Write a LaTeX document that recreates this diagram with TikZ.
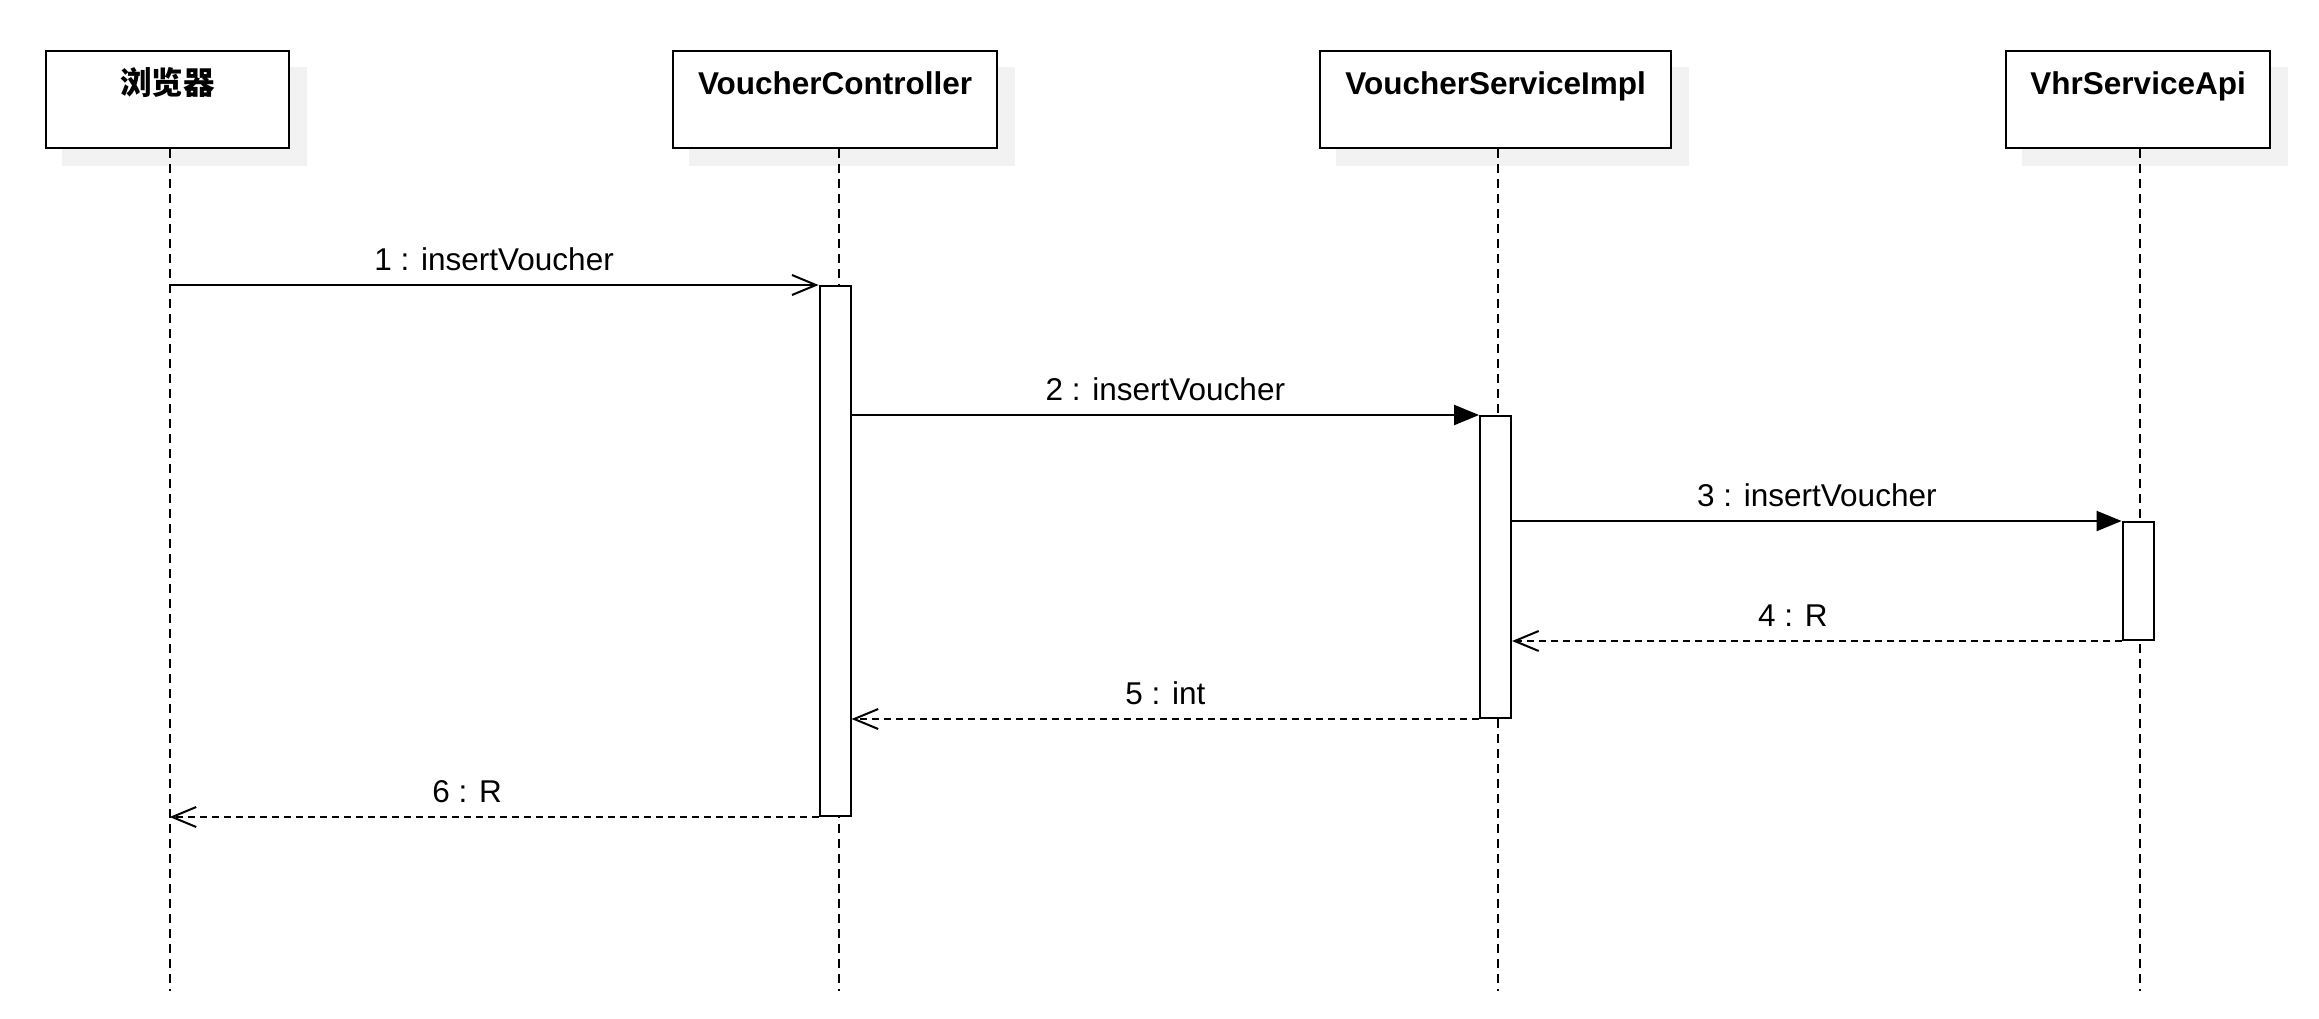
\documentclass[tikz,border=0pt]{standalone}
\usepackage{fontspec}
\setmainfont{Liberation Sans}
\newfontfamily\cjk{Noto Sans CJK SC}
\usetikzlibrary{arrows.meta,backgrounds}
\definecolor{shadowgray}{HTML}{F2F2F2}
\begin{document}
\begin{tikzpicture}[x=1pt,y=-1pt,
  every node/.style={font=\fontsize{31.5}{38}\selectfont},
  participant/.style={draw, line width=2.2pt, fill=white, inner sep=0pt,
    anchor=north west, minimum height=97pt, text height=43pt, text depth=54pt,
    font=\fontsize{31.5}{38}\selectfont\bfseries},
  activation/.style={draw, line width=2pt, fill=white, inner sep=0pt,
    anchor=north, minimum width=31pt},
  lifeline/.style={line width=1.8pt, dash pattern=on 9pt off 6pt},
  call/.style={line width=2pt, -{Triangle[length=25pt,width=20pt]}},
  async/.style={line width=2pt, -{Straight Barb[length=24pt,width=20pt]}},
  reply/.style={line width=2pt, dash pattern=on 7pt off 5pt,
    -{Straight Barb[length=24pt,width=20pt,line width=2pt]}},
  msglabel/.style={midway, anchor=base, yshift=15pt, inner sep=0pt}
]
\useasboundingbox (0,0) rectangle (2319,1018);

% participants
\node[participant, minimum width=243pt] (br)  at (45,50)   {\cjk\bfseries 浏览器};
\node[participant, minimum width=324pt] (vc)  at (672,50)  {VoucherController};
\node[participant, minimum width=351pt] (vsi) at (1319,50) {VoucherServiceImpl};
\node[participant, minimum width=264pt] (api) at (2005,50) {VhrServiceApi};

% drop shadows behind the participant boxes
\begin{scope}[on background layer]
  \foreach \p in {br,vc,vsi,api}
    \fill[shadowgray] ([shift={(17pt,-17pt)}]\p.north west) rectangle ([shift={(17pt,-17pt)}]\p.south east);
\end{scope}

% lifeline tops and ends
\coordinate (brTop)  at ([xshift=2pt]br.south);
\coordinate (vcTop)  at ([xshift=4pt]vc.south);
\coordinate (vsiTop) at ([xshift=2.5pt]vsi.south);
\coordinate (apiTop) at ([xshift=2pt]api.south);
\coordinate (brEnd)  at (brTop  |- 0,991);
\coordinate (vcEnd)  at (vcTop  |- 0,991);
\coordinate (vsiEnd) at (vsiTop |- 0,991);
\coordinate (apiEnd) at (apiTop |- 0,991);

\draw[lifeline] (brTop)  -- (brEnd);
\draw[lifeline] (vcTop)  -- (vcEnd);
\draw[lifeline] (vsiTop) -- (vsiEnd);
\draw[lifeline] (apiTop) -- (apiEnd);

% activation bars
\node[activation, minimum height=530pt] (a1) at (vc.south  |- 0,285) {};
\node[activation, minimum height=302pt] (a2) at (vsi.south |- 0,415) {};
\node[activation, minimum height=118pt] (a3) at (api.south |- 0,521) {};

% message end points on lifelines / bars
\coordinate (m1s) at (brTop   |- a1.north);
\coordinate (m4e) at (a2.east |- a3.south);
\coordinate (m5e) at (a1.east |- a2.south);
\coordinate (m6e) at (brTop   |- a1.south);

% messages
\draw[async] (m1s) -- (a1.north west) node[msglabel] {1 : insertVoucher};
\draw[call]  (a1.east |- a2.north) -- (a2.north west) node[msglabel] {2 : insertVoucher};
\draw[call]  (a2.east |- a3.north) -- (a3.north west) node[msglabel] {3 : insertVoucher};
\draw[reply] (a3.south west) -- (m4e) node[msglabel, xshift=-24pt] {4 : R};
\draw[reply] (a2.south west) -- (m5e) node[msglabel] {5 : int};
\draw[reply] (a1.south west) -- (m6e) node[msglabel, xshift=-27pt] {6 : R};
\end{tikzpicture}
\end{document}
